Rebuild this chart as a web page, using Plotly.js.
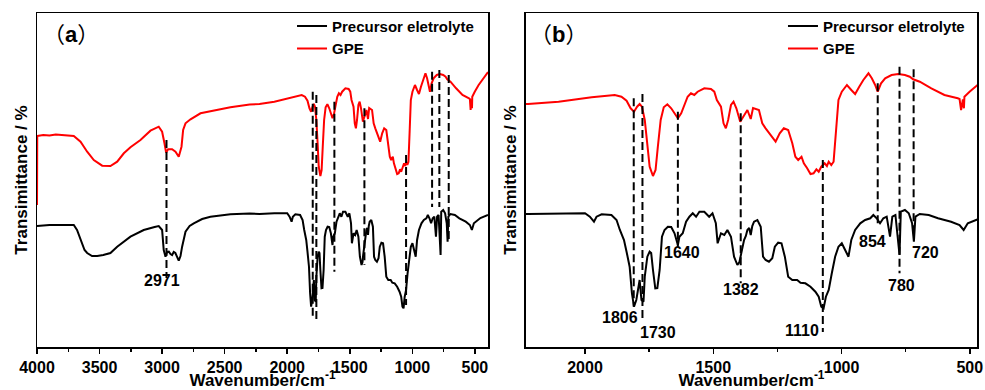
<!DOCTYPE html>
<html>
<head>
<meta charset="utf-8">
<script src="https://cdn.plot.ly/plotly-3.0.1.min.js"></script>
<style>html,body{margin:0;padding:0;background:#fff;}#chart{width:985px;height:390px;}</style>
</head>
<body>
<div id="chart"></div>
<script>
// Wavenumbers (cm^-1) and transmittance (arbitrary units, offset spectra)
var precursorWn = [4000,3900,3800,3706,3680,3650,3620,3599,3560,3519,3470,3413,3359,3253,3147,3060,3027,3000,2987,2973,2960,2946,2933,2920,2907,2894,2880,2867,2853,2840,2813,2780,2747,2680,2614,2454,2300,2222,2103,2000,1981,1965,1955,1935,1897,1877,1864,1848,1838,1826,1817,1809,1800,1793,1787,1780,1772,1767,1757,1748,1742,1735,1726,1718,1709,1700,1690,1677,1664,1651,1638,1632,1619,1606,1593,1580,1567,1554,1535,1516,1503,1490,1483,1470,1457,1445,1431,1419,1406,1398,1393,1386,1380,1373,1367,1360,1354,1348,1341,1328,1315,1306,1296,1283,1270,1260,1247,1234,1221,1208,1192,1173,1160,1141,1121,1102,1089,1079,1070,1061,1050,1038,1025,1012,999,986,973,962,947,927,908,888,876,863,850,837,824,811,802,790,782,774,769,753,738,725,718,712,695,660,624,573,540,524,508,480,456,395];
var precursorT = [121,122,122,122,117,107,97,94,91,91,92,94,100.3,110.3,117,120,121,117,97,90.3,95,95.3,93,92,95,94,90,86.3,91,100.3,115.3,121,123.7,128,130.3,132.7,133.5,133,133.7,133.7,130.3,125.3,130.3,132.7,132,127,117,107,95.3,80.3,53.7,40.3,47,60.3,67,47,45.3,70.3,90.3,95.3,94,77,58.7,59,77,110.3,117,120.3,120,113.7,102,110.3,113.7,125.3,130.3,133.7,130.3,135.3,135.3,130.3,133.7,123.7,103.7,113.7,112,117,110.3,90.3,82,85,92,100.3,107,111,117,119,112,121,125.3,127,120.3,90.3,87,85.3,88.7,100.3,104.3,103.7,90.3,70.3,67,67,64.3,63.7,60.3,55.3,50.3,40.3,38.7,50.3,57,73.7,90.3,100.3,103.7,97,90.3,107,117,123.7,127,128.7,132,128.7,123.7,128.7,130.3,110.3,130.3,132,110.3,92,135.3,137,133.7,123.7,105.3,130.3,133,132,128.7,125.3,122,117,123.7,127,129,132];

var gpeWn = [4000,3998,3950,3900,3850,3800,3750,3706,3652,3599,3546,3479,3413,3359,3306,3253,3173,3093,3027,3000,2981,2968,2952,2920,2893,2867,2845,2832,2813,2773,2693,2587,2454,2300,2222,2103,1974,1884,1858,1838,1822,1809,1797,1787,1778,1767,1757,1748,1735,1725,1716,1705,1693,1679,1664,1651,1638,1625,1612,1600,1587,1574,1561,1535,1509,1496,1486,1470,1460,1451,1442,1431,1421,1410,1395,1380,1367,1354,1345,1322,1309,1296,1276,1257,1241,1225,1208,1192,1180,1169,1156,1147,1134,1121,1109,1098,1089,1079,1066,1057,1050,1040,1031,1022,1012,999,979,962,947,931,915,895,882,869,859,846,830,805,779,753,734,721,695,650,599,547,540,534,530,527,523,521,501,486,470,395];
var gpeT = [142,211,212,211.5,212.5,212,212,211,205.3,195.3,187,181.3,181,185.3,193.7,199.7,207,216.3,220.3,215.3,203.7,194.3,197.7,197.7,195.3,190.3,200.3,217,223.7,227.7,233.7,236.3,239.7,242.5,243,245.3,249.7,252,250.3,246.3,238.7,235.3,240.3,243,240.3,227,203.7,180.3,171,177,200.3,227,239.7,242.7,238.7,233.7,228.7,233.7,242,250.3,253.7,252,255.3,258.7,258,255.3,247,240.3,223.7,218.7,227,242,245.3,238.7,225.3,232,237,228,239,237,223.7,218.7,212,205.3,213.7,218.7,217,203.7,190.3,187,190.3,183.7,178.7,173,173.7,177.7,175.3,180.3,183.7,181,185.3,182,185.3,213.7,247,255.3,262,257,253,260.3,267,273.7,268.7,262,255.3,263.7,268.7,272,273,272,270.3,267.7,265.3,258.7,252,248.7,248,237,247,247.7,238.7,250.3,255.3,258.7,262,275];

// Peak marker lines: wavenumber, top and bottom (same units as T)
var markA_wn = [2965,1796,1767,1623,1383,1050,842,784,709];
var markA_top = [207,255.3,252,245.3,238.7,192,275.3,277,272];
var markA_bot = [69,30.3,28,75.3,82,42,140,140,104];
var markB_wn = [1810,1776,1638,1393,1073,859,774,719];
var markB_top = [248.7,253,235.3,233.7,187,263.7,280.3,277.7];
var markB_bot = [40.3,29,100.3,63.7,15,120.3,73.7,110.3];

// Peak labels
var labelA_text = ['2971'];
var labelA_wn = [2997];
var labelA_T = [67];
var labelB_text = ['1806','1730','1640','1382','1110','854','780','720'];
var labelB_wn = [1864,1717,1620,1391,1155,880,767,674];
var labelB_T = [30,15,95,58,17,106,62,95];

var seriesNames = ['Precursor eletrolyte','GPE'];
var panelLetters = ['a','b'];
var ticksA = [4000,3500,3000,2500,2000,1500,1000,500];
var ticksB = [2000,1500,1000,500];

var FONT = 'Liberation Sans, Arial, Noto Sans CJK SC, sans-serif';

function markTrace(wn, top, bot, xa, ya) {
  var xs = [], ys = [];
  for (var i = 0; i < wn.length; i++) {
    xs.push(wn[i], wn[i], null);
    ys.push(top[i], bot[i], null);
  }
  return {x: xs, y: ys, xaxis: xa, yaxis: ya, type: 'scatter', mode: 'lines',
    line: {color: '#000', width: 2, dash: '8px,4px'}, showlegend: false, hoverinfo: 'skip'};
}

var traces = [
  {x: precursorWn, y: precursorT, name: seriesNames[0], type: 'scatter', mode: 'lines', line: {color: '#000', width: 2}, xaxis: 'x', yaxis: 'y', legend: 'legend'},
  {x: gpeWn, y: gpeT, name: seriesNames[1], type: 'scatter', mode: 'lines', line: {color: '#ff0000', width: 2}, xaxis: 'x', yaxis: 'y', legend: 'legend'},
  {x: precursorWn, y: precursorT, name: seriesNames[0], type: 'scatter', mode: 'lines', line: {color: '#000', width: 2}, xaxis: 'x2', yaxis: 'y2', legend: 'legend2'},
  {x: gpeWn, y: gpeT, name: seriesNames[1], type: 'scatter', mode: 'lines', line: {color: '#ff0000', width: 2}, xaxis: 'x2', yaxis: 'y2', legend: 'legend2'},
  markTrace(markA_wn, markA_top, markA_bot, 'x', 'y'),
  markTrace(markB_wn, markB_top, markB_bot, 'x2', 'y2')
];

function xAxis(domain, range, ticks, anchor) {
  return {
    domain: domain, range: range, autorange: false, anchor: anchor,
    tickmode: 'array', tickvals: ticks, ticktext: ticks.map(String),
    ticks: 'outside', ticklen: 5, tickwidth: 1.5, tickcolor: '#000',
    minor: {dtick: 250, tick0: 0, ticks: 'outside', ticklen: 3, tickwidth: 1.5, tickcolor: '#000'},
    showline: true, linecolor: '#000', linewidth: 1.5, mirror: true,
    showgrid: false, zeroline: false,
    tickfont: {family: FONT, size: 16, color: '#000', weight: 'bold'},
    title: {text: 'Wavenumber/cm<sup>-1</sup>', font: {family: FONT, size: 17, color: '#000', weight: 'bold'}, standoff: 6}
  };
}
function yAxis(anchor) {
  return {
    domain: [0, 1], range: [0, 334], autorange: false, anchor: anchor,
    showticklabels: false, ticks: '', showgrid: false, zeroline: false,
    showline: true, linecolor: '#000', linewidth: 1.5, mirror: true,
    title: {text: 'Transimittance / %', font: {family: FONT, size: 17, color: '#000', weight: 'bold'}, standoff: 3}
  };
}

var annotations = [];
function addLabels(texts, wn, t, xr, yr) {
  for (var i = 0; i < texts.length; i++) {
    annotations.push({x: wn[i], y: t[i], xref: xr, yref: yr, text: texts[i], showarrow: false,
      font: {family: FONT, size: 16, color: '#000', weight: 'bold'}, xanchor: 'center', yanchor: 'middle'});
  }
}
addLabels(labelA_text, labelA_wn, labelA_T, 'x', 'y');
addLabels(labelB_text, labelB_wn, labelB_T, 'x2', 'y2');
annotations.push({x: 0.0754, y: 0.937, xref: 'x domain', yref: 'y domain', text: '（<b>' + panelLetters[0] + '</b>）', showarrow: false,
  font: {family: FONT, size: 22, color: '#000'}, xanchor: 'center', yanchor: 'middle'});
annotations.push({x: 0.073, y: 0.937, xref: 'x2 domain', yref: 'y2 domain', text: '（<b>' + panelLetters[1] + '</b>）', showarrow: false,
  font: {family: FONT, size: 22, color: '#000'}, xanchor: 'center', yanchor: 'middle'});

var legendFont = {family: FONT, size: 15, color: '#000', weight: 'bold'};
var layout = {
  width: 985, height: 390,
  margin: {l: 37, r: 8, t: 13, b: 43},
  paper_bgcolor: '#fff', plot_bgcolor: '#fff',
  xaxis: xAxis([0, 0.4798], [4000, 395], ticksA, 'y'),
  yaxis: yAxis('x'),
  xaxis2: xAxis([0.5202, 1], [2230, 472], ticksB, 'y2'),
  yaxis2: yAxis('x2'),
  legend: {x: 0.2713, y: 1.0096, xanchor: 'left', yanchor: 'top', font: legendFont, bgcolor: 'rgba(0,0,0,0)', borderwidth: 0, tracegroupgap: 0},
  legend2: {x: 0.7936, y: 1.0096, xanchor: 'left', yanchor: 'top', font: legendFont, bgcolor: 'rgba(0,0,0,0)', borderwidth: 0, tracegroupgap: 0},
  annotations: annotations,
  showlegend: true
};

Plotly.newPlot('chart', traces, layout, {displayModeBar: false, staticPlot: true});
</script>
</body>
</html>
